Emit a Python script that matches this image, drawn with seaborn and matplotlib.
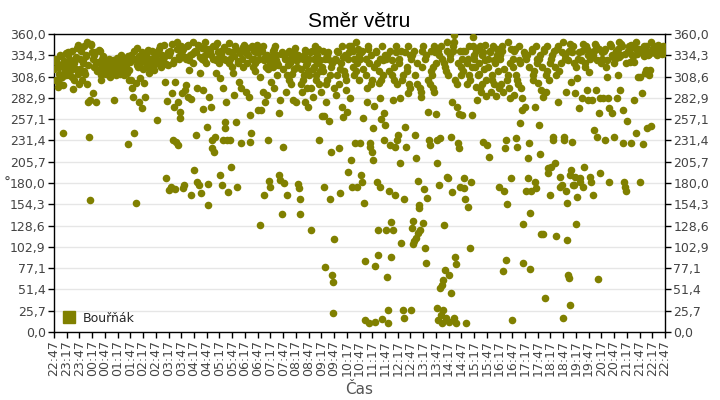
import numpy as np
import pandas as pd
import matplotlib
matplotlib.use("Agg")
import matplotlib.pyplot as plt
import seaborn as sns
from matplotlib.lines import Line2D

# Wind direction readings, grouped per half hour (starting 22:47)
night = [
    [318, 330, 328, 305, 325, 303, 296, 312, 320, 335, 300, 333, 322, 308, 298, 240, 327, 315, 316, 337, 310],
    [322, 335, 338, 310, 328, 320, 316, 340, 308, 293, 325, 305, 330, 332, 318, 343, 347, 312, 300],
    [330, 318, 342, 340, 305, 328, 325, 345, 315, 312, 335, 333, 300, 350, 278, 322, 236, 159, 280, 348, 347, 338],
    [289, 330, 335, 320, 338, 325, 278, 315, 316, 326, 341, 340, 318, 310, 304, 330, 333, 322, 313, 328],
    [320, 312, 325, 326, 316, 317, 330, 308, 329, 322, 318, 312, 328, 314, 280, 322, 324, 310, 320, 331],
    [318, 328, 324, 312, 335, 331, 322, 315, 318, 330, 310, 328, 325, 320, 313, 333, 227, 316, 304, 326],
    [304, 335, 328, 295, 284, 240, 340, 330, 156, 301, 322, 343, 320, 333, 278, 325, 307, 326, 271, 338, 318],
    [328, 301, 335, 284, 335, 324, 320, 341, 329, 313, 330, 319, 318, 325, 340, 338, 322, 316, 332, 327],
    [330, 256, 336, 340, 325, 342, 345, 320, 327, 335, 328, 333, 347, 332, 302, 186, 324, 279, 338, 322],
    [335, 172, 338, 340, 175, 289, 348, 232, 325, 272, 328, 173, 302, 229, 342, 350, 278, 226, 333, 330, 258, 266, 345],
    [289, 340, 342, 174, 178, 292, 332, 330, 298, 345, 347, 284, 317, 328, 335, 282, 166, 336, 350, 325, 338],
    [196, 340, 338, 238, 181, 295, 347, 345, 178, 313, 332, 168, 330, 343, 269, 292, 328, 350, 335, 325, 342],
]
morning = [
    [248, 153, 179, 342, 284, 340, 335, 272, 232, 222, 330, 346, 218, 345, 236, 328, 313, 330, 349, 338, 325, 338],
    [307, 190, 340, 336, 178, 232, 295, 344, 330, 254, 246, 328, 278, 232, 169, 340, 349, 325, 232, 330, 338, 199, 320],
    [335, 313, 333, 286, 345, 342, 254, 175, 325, 327, 302, 340, 337, 295, 228, 330, 344, 320, 347, 338],
    [340, 290, 336, 325, 335, 343, 284, 262, 230, 240, 330, 345, 320, 340, 330, 315, 325, 338, 328, 347],
    [268, 330, 338, 129, 308, 268, 343, 340, 290, 345, 328, 166, 278, 332, 320, 286, 335, 318, 232, 182, 175, 325],
    [330, 302, 333, 340, 320, 342, 295, 345, 335, 328, 310, 325, 322, 190, 265, 184, 280, 336, 143, 338, 318],
    [224, 180, 330, 336, 290, 166, 310, 322, 340, 305, 330, 325, 300, 312, 335, 280, 318, 340, 343, 328],
    [278, 320, 328, 335, 179, 174, 161, 143, 318, 300, 290, 305, 330, 310, 335, 278, 341, 322, 325, 295, 272, 315],
    [310, 330, 338, 123, 295, 340, 318, 284, 320, 330, 345, 305, 310, 325, 335, 342, 300, 232, 315, 328, 290],
    [261, 320, 315, 340, 261, 175, 330, 78, 278, 300, 305, 335, 330, 338, 255, 310, 161, 218, 320, 69, 325, 60, 23, 295],
    [112, 330, 328, 286, 310, 340, 338, 222, 300, 168, 318, 325, 272, 345, 332, 260, 315, 335, 310, 305, 292],
    [266, 193, 330, 338, 345, 283, 208, 345, 175, 320, 340, 330, 310, 228, 350, 315, 175, 325, 342, 305, 335],
]
afternoon = [
    [228, 330, 338, 190, 181, 340, 258, 318, 156, 86, 14, 310, 330, 295, 278, 345, 342, 11, 325, 228, 224, 300, 335, 305],
    [218, 208, 246, 273, 320, 12, 80, 340, 338, 325, 181, 123, 93, 315, 301, 330, 175, 283, 305, 257, 16, 345, 328, 310, 265, 232, 335],
    [250, 123, 330, 335, 66, 27, 11, 170, 315, 226, 340, 133, 91, 328, 310, 280, 123, 305, 320, 224, 166, 345, 338, 232, 300],
    [238, 330, 325, 283, 204, 107, 340, 305, 310, 27, 161, 17, 338, 248, 224, 320, 315, 289, 345, 300, 295, 335],
    [330, 27, 126, 335, 134, 106, 110, 340, 310, 238, 210, 113, 300, 325, 182, 120, 150, 153, 295, 123, 290, 284, 320, 340, 345],
    [132, 173, 102, 330, 335, 83, 162, 266, 305, 232, 226, 300, 340, 315, 310, 320, 295, 290, 345, 338, 325],
    [263, 29, 204, 232, 14, 340, 335, 178, 53, 234, 21, 345, 57, 11, 330, 63, 27, 325, 129, 320, 75, 315, 17, 350, 187, 340, 186, 310],
    [69, 12, 330, 335, 47, 236, 278, 169, 340, 345, 17, 359, 350, 91, 305, 11, 82, 272, 300, 325, 228, 222, 263, 340, 175, 320, 310],
    [262, 330, 315, 340, 186, 174, 161, 340, 11, 300, 325, 330, 151, 345, 310, 305, 102, 181, 262, 320, 345, 356, 335],
    [330, 320, 296, 340, 342, 280, 310, 312, 325, 345, 295, 290, 335, 300, 338, 230, 318, 347, 328, 305, 285],
    [226, 330, 320, 211, 340, 338, 290, 310, 305, 345, 300, 328, 325, 285, 342, 335, 315, 295, 175],
    [330, 335, 300, 340, 345, 290, 74, 170, 318, 222, 87, 232, 155, 305, 310, 350, 295, 283, 325, 342, 186, 14],
]
evening = [
    [330, 320, 286, 340, 342, 310, 234, 224, 305, 300, 345, 328, 252, 325, 295, 283, 268, 130, 83, 338, 335],
    [272, 170, 330, 335, 210, 186, 228, 320, 76, 144, 170, 340, 342, 304, 310, 315, 181, 272, 174, 345, 330, 325],
    [301, 250, 330, 335, 215, 118, 292, 320, 284, 118, 340, 342, 41, 310, 290, 315, 345, 198, 192, 305, 166, 325],
    [199, 330, 335, 232, 236, 340, 320, 204, 116, 310, 342, 345, 278, 315, 187, 175, 325, 338, 178, 350],
    [17, 236, 232, 330, 335, 290, 170, 111, 156, 328, 69, 65, 340, 348, 33, 190, 196, 302, 338, 230, 178, 345, 325, 178, 187, 289, 320],
    [130, 307, 163, 330, 338, 271, 186, 181, 328, 340, 283, 175, 348, 199, 320, 325, 345, 292, 342, 280, 335],
    [314, 187, 330, 338, 181, 280, 166, 335, 340, 244, 348, 345, 292, 328, 236, 64, 265, 342, 192, 283, 325],
    [330, 338, 283, 340, 232, 342, 320, 308, 328, 283, 271, 181, 348, 345, 265, 335, 332, 325],
    [236, 330, 338, 340, 283, 342, 310, 350, 332, 292, 335, 348, 345, 268, 228, 181, 175, 336, 170, 325],
    [255, 340, 340, 345, 326, 347, 228, 335, 333, 326, 280, 343, 350, 240, 336, 338, 308, 342],
    [308, 181, 340, 342, 289, 227, 333, 345, 313, 346, 317, 246, 340, 335, 310, 336, 317, 350, 249, 338],
    [340, 343, 345, 337, 338, 342, 335, 346, 347, 340, 341, 338, 343, 336, 341, 345, 337, 339],
]

time_labels = ["22:47", "23:17", "23:47", "00:17", "00:47", "01:17", "01:47", "02:17",
               "02:47", "03:17", "03:47", "04:17", "04:47", "05:17", "05:47", "06:17",
               "06:47", "07:17", "07:47", "08:17", "08:47", "09:17", "09:47", "10:17",
               "10:47", "11:17", "11:47", "12:17", "12:47", "13:17", "13:47", "14:17",
               "14:47", "15:17", "15:47", "16:17", "16:47", "17:17", "17:47", "18:17",
               "18:47", "19:17", "19:47", "20:17", "20:47", "21:17", "21:47", "22:17",
               "22:47"]
y_ticks = [0.0, 25.7, 51.4, 77.1, 102.9, 128.6, 154.3, 180.0, 205.7, 231.4,
           257.1, 282.9, 308.6, 334.3, 360.0]

# build long table: minutes since 22:47
rows = []
for k, block in enumerate(night + morning + afternoon + evening):
    n = len(block)
    for j, v in enumerate(block):
        rows.append((30 * k + 30 * (j + 0.5) / n, v))
df = pd.DataFrame(rows, columns=["minute", "direction"])

sns.set_theme(style="white")
plt.rcParams["font.family"] = ["DejaVu Sans"]

fig = plt.figure(figsize=(7.2, 4.0), dpi=100)
ax = fig.add_axes([54 / 720, 1 - 332 / 400, (665 - 54) / 720, (332 - 34) / 400])

olive = "#808000"
sns.scatterplot(data=df, x="minute", y="direction", color=olive, s=30,
                edgecolor=olive, linewidth=0, ax=ax, legend=False, zorder=3)

ax.set_xlim(0, 1440)
ax.set_ylim(0, 360)
ax.set_yticks(np.linspace(0, 360, 15))
ax.set_yticklabels([f"{v:.1f}".replace(".", ",") for v in y_ticks])
ax.set_xticks(np.arange(0, 1441, 30))
ax.set_xticklabels(time_labels, rotation=90)
ax.yaxis.grid(True, color="#e6e6e6", linewidth=1)
ax.xaxis.grid(False)
ax.set_axisbelow(True)

for s in ax.spines.values():
    s.set_color("black")
    s.set_linewidth(1)

ax.tick_params(axis="y", which="both", left=True, right=True, labelleft=True,
               labelright=True, length=4, width=1, color="black",
               labelsize=9, labelcolor="#444444", pad=2)
ax.tick_params(axis="x", bottom=True, length=4, width=1, color="black",
               labelsize=9, labelcolor="#444444", pad=2)

ax.set_xlabel("Čas", fontsize=11, color="#555555", labelpad=4)
ax.set_ylabel("°", fontsize=10, color="#444444", rotation=0,
              ha="center", va="center")
ax.yaxis.set_label_coords(-0.076, 0.5)
ax.set_title("Směr větru", fontsize=15, color="black", pad=5,
             family=["Liberation Sans", "DejaVu Sans"])

handle = Line2D([], [], marker="s", linestyle="none", markersize=9,
                markerfacecolor=olive, markeredgecolor=olive)
ax.legend([handle], ["Bouřňák"], loc="lower left", frameon=False,
          fontsize=9, handletextpad=0.5, borderaxespad=0.2,
          handlelength=1.2, bbox_to_anchor=(0.0, 0.0))

fig.savefig("out.png", dpi=100)
